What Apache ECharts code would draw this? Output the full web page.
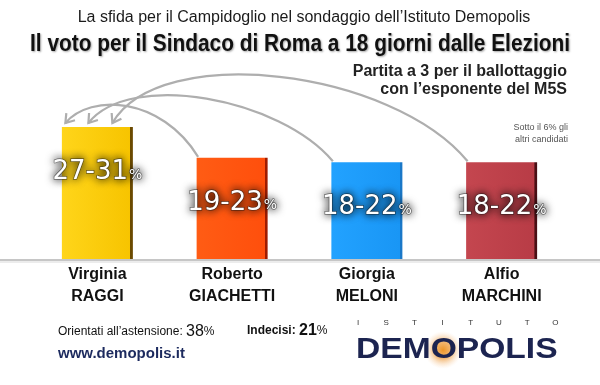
<!DOCTYPE html>
<html><head><meta charset="utf-8">
<script src="https://cdn.jsdelivr.net/npm/echarts@6/dist/echarts.min.js"></script>
<style>html,body{margin:0;padding:0;background:#fff}#c{width:600px;height:385px}</style>
</head><body><div id="c"></div>
<script>
// ---- data ----
const categories = ['Virginia\nRAGGI', 'Roberto\nGIACHETTI', 'Giorgia\nMELONI', 'Alfio\nMARCHINI'];
const barValues = [30, 23, 22, 22];
const rangeLow = [27, 19, 18, 18];
const rangeHigh = [31, 23, 22, 22];
const astensione = 38;
const indecisi = 21;
const logoTop = ['I', 'S', 'T', 'I', 'T', 'U', 'T', 'O'];

// ---- styles ----
const barColors = [
  ['#ffd51a', '#f7c400', '#6b4a00'],
  ['#ff5c14', '#ff4f0c', '#a01c00'],
  ['#22a2ff', '#1996f5', '#1a78c8'],
  ['#c4464f', '#b83c46', '#4a1015']
];
const SANS = '"Liberation Sans", Arial, sans-serif';

const chart = echarts.init(document.getElementById('c'), null, {renderer: 'canvas'});

function barStyle(i) {
  const c = barColors[i];
  return {
    color: new echarts.graphic.LinearGradient(0, 0, 1, 0, [
      {offset: 0, color: c[0]}, {offset: 0.96, color: c[1]},
      {offset: 0.965, color: c[2]}, {offset: 1, color: c[2]}
    ])
  };
}

const shadowed = {textShadowColor: 'rgba(0,0,0,1)', textShadowBlur: 9, textBorderColor: 'rgba(30,30,30,0.55)', textBorderWidth: 1.5};

chart.setOption({
  animation: false,
  grid: {left: 30, right: 31, top: 83, bottom: 126},
  xAxis: {
    type: 'category', data: categories,
    axisLine: {show: false}, axisTick: {show: false},
    axisLabel: {fontSize: 16, fontWeight: 'bold', fontFamily: SANS, color: '#111', lineHeight: 22, margin: 5, interval: 0}
  },
  yAxis: {type: 'value', min: 0, max: 40, show: false},
  series: [{
    type: 'bar', barWidth: 71,
    data: barValues.map((v, i) => ({value: v, itemStyle: barStyle(i)})),
    label: Object.assign({
      show: true, position: ['50%', 45], align: 'center', verticalAlign: 'middle',
      formatter: p => '{a|' + rangeLow[p.dataIndex] + '-' + rangeHigh[p.dataIndex] + '}{b|%}',
      rich: {
        a: Object.assign({fontSize: 26, color: '#fff', fontFamily: '"DejaVu Sans", sans-serif'}, shadowed),
        b: Object.assign({fontSize: 14, color: '#fff', fontFamily: '"DejaVu Sans", sans-serif', padding: [6, 0, 0, 1]}, shadowed)
      }
    }, shadowed)
  }]
});

function measure(text, font) {
  const cv = document.createElement('canvas').getContext('2d');
  cv.font = font;
  return cv.measureText(text).width;
}

function buildGraphics() {
  const els = [];
  const y0 = chart.convertToPixel({yAxisIndex: 0}, 0);
  els.push({type: 'rect', z: -1, shape: {x: 0, y: y0, width: 600, height: 2}, style: {fill: '#c6c6c6'}, silent: true});
  els.push({type: 'rect', z: -1, shape: {x: 0, y: y0 + 2, width: 600, height: 2}, style: {fill: '#ececec'}, silent: true});

  // arrows
  const p = i => chart.convertToPixel({seriesIndex: 0}, [i, barValues[i]]);
  const p0 = p(0);
  const arcs = [
    {from: 1, endDx: -32, c1: [-37, -60], c2: [25, -30]},
    {from: 2, endDx: -9, c1: [-53, -63], c2: [42, -53]},
    {from: 3, endDx: 15, c1: [-76, -92], c2: [48, -82]}
  ];
  arcs.forEach(a => {
    const q = p(a.from);
    const s = [q[0] - 34, q[1] - 1];
    const e = [p0[0] + a.endDx, p0[1] - 4];
    const c1 = [s[0] + a.c1[0], s[1] + a.c1[1]];
    const c2 = [e[0] + a.c2[0], e[1] + a.c2[1]];
    els.push({type: 'bezierCurve', z: 10, shape: {x1: s[0], y1: s[1], x2: e[0], y2: e[1], cpx1: c1[0], cpy1: c1[1], cpx2: c2[0], cpy2: c2[1]},
      style: {stroke: '#aeaeae', lineWidth: 2.2, fill: null}, silent: true});
    const dx = e[0] - c2[0], dy = e[1] - c2[1];
    const ang = Math.atan2(dy, dx);
    const L = 10;
    const w1 = [e[0] - L * Math.cos(ang - 0.6), e[1] - L * Math.sin(ang - 0.6)];
    const w2 = [e[0] - L * Math.cos(ang + 0.6), e[1] - L * Math.sin(ang + 0.6)];
    els.push({type: 'polyline', z: 10, shape: {points: [w1, e, w2]}, style: {stroke: '#aeaeae', lineWidth: 2.2, fill: null, lineJoin: 'miter'}, silent: true});
  });

  // titles
  els.push({type: 'text', x: 304, y: 18, style: {text: 'La sfida per il Campidoglio nel sondaggio dell’Istituto Demopolis', font: '16px ' + SANS, fill: '#1a1a1a', align: 'center', verticalAlign: 'middle'}});
  const t2 = 'Il voto per il Sindaco di Roma a 18 giorni dalle Elezioni';
  const f2 = 'bold 23px ' + SANS;
  const sx = 540 / measure(t2, f2);
  els.push({type: 'text', x: 300, y: 45, scaleX: sx, style: {text: t2, font: f2, fill: '#111', align: 'center', verticalAlign: 'middle', textShadowColor: 'rgba(0,0,0,0.35)', textShadowBlur: 2, textShadowOffsetX: 1, textShadowOffsetY: 1}});
  els.push({type: 'text', x: 567, y: 72, style: {text: 'Partita a 3 per il ballottaggio', font: 'bold 16px ' + SANS, fill: '#222', align: 'right', verticalAlign: 'middle'}});
  els.push({type: 'text', x: 567, y: 90, style: {text: 'con l’esponente del M5S', font: 'bold 16px ' + SANS, fill: '#222', align: 'right', verticalAlign: 'middle'}});
  els.push({type: 'text', x: 568, y: 128, style: {text: 'Sotto il 6% gli', font: '9px ' + SANS, fill: '#555', align: 'right', verticalAlign: 'middle'}});
  els.push({type: 'text', x: 568, y: 140, style: {text: 'altri candidati', font: '9px ' + SANS, fill: '#555', align: 'right', verticalAlign: 'middle'}});

  // footer
  els.push({type: 'text', x: 58, y: 332, style: {
    text: '{t|Orientati all’astensione: }{n|' + astensione + '}{p|%}', verticalAlign: 'middle', align: 'left',
    rich: {t: {fontSize: 12, fontFamily: SANS, fill: '#111'}, n: {fontSize: 16, fontFamily: SANS, fill: '#111'}, p: {fontSize: 12, fontFamily: SANS, fill: '#111'}}
  }});
  els.push({type: 'text', x: 247, y: 331, style: {
    text: '{t|Indecisi: }{n|' + indecisi + '}{p|%}', verticalAlign: 'middle', align: 'left',
    rich: {t: {fontSize: 12, fontWeight: 'bold', fontFamily: SANS, fill: '#111'}, n: {fontSize: 16, fontWeight: 'bold', fontFamily: SANS, fill: '#111'}, p: {fontSize: 12, fontFamily: SANS, fill: '#111'}}
  }});
  els.push({type: 'text', x: 58, y: 354, style: {text: 'www.demopolis.it', font: 'bold 15px ' + SANS, fill: '#1c2a5e', align: 'left', verticalAlign: 'middle'}});

  // logo
  els.push({type: 'circle', shape: {cx: 443, cy: 350, r: 19}, style: {fill: new echarts.graphic.RadialGradient(0.5, 0.5, 0.5, [
    {offset: 0, color: 'rgba(238,150,40,1)'}, {offset: 0.45, color: 'rgba(238,160,70,0.75)'}, {offset: 1, color: 'rgba(250,220,190,0)'}])}, silent: true});
  els.push({type: 'text', x: 356, y: 350, scaleX: 1.12, style: {text: 'DEMOPOLIS', font: 'bold 30px ' + SANS, fill: '#1c2450', align: 'left', verticalAlign: 'middle'}});
  logoTop.forEach((ch, k) => {
    els.push({type: 'text', x: 358 + k * 28.2, y: 323, style: {text: ch, font: '8px ' + SANS, fill: '#333', align: 'center', verticalAlign: 'middle'}});
  });
  chart.setOption({graphic: {elements: els}});
}
buildGraphics();
</script>
</body></html>
